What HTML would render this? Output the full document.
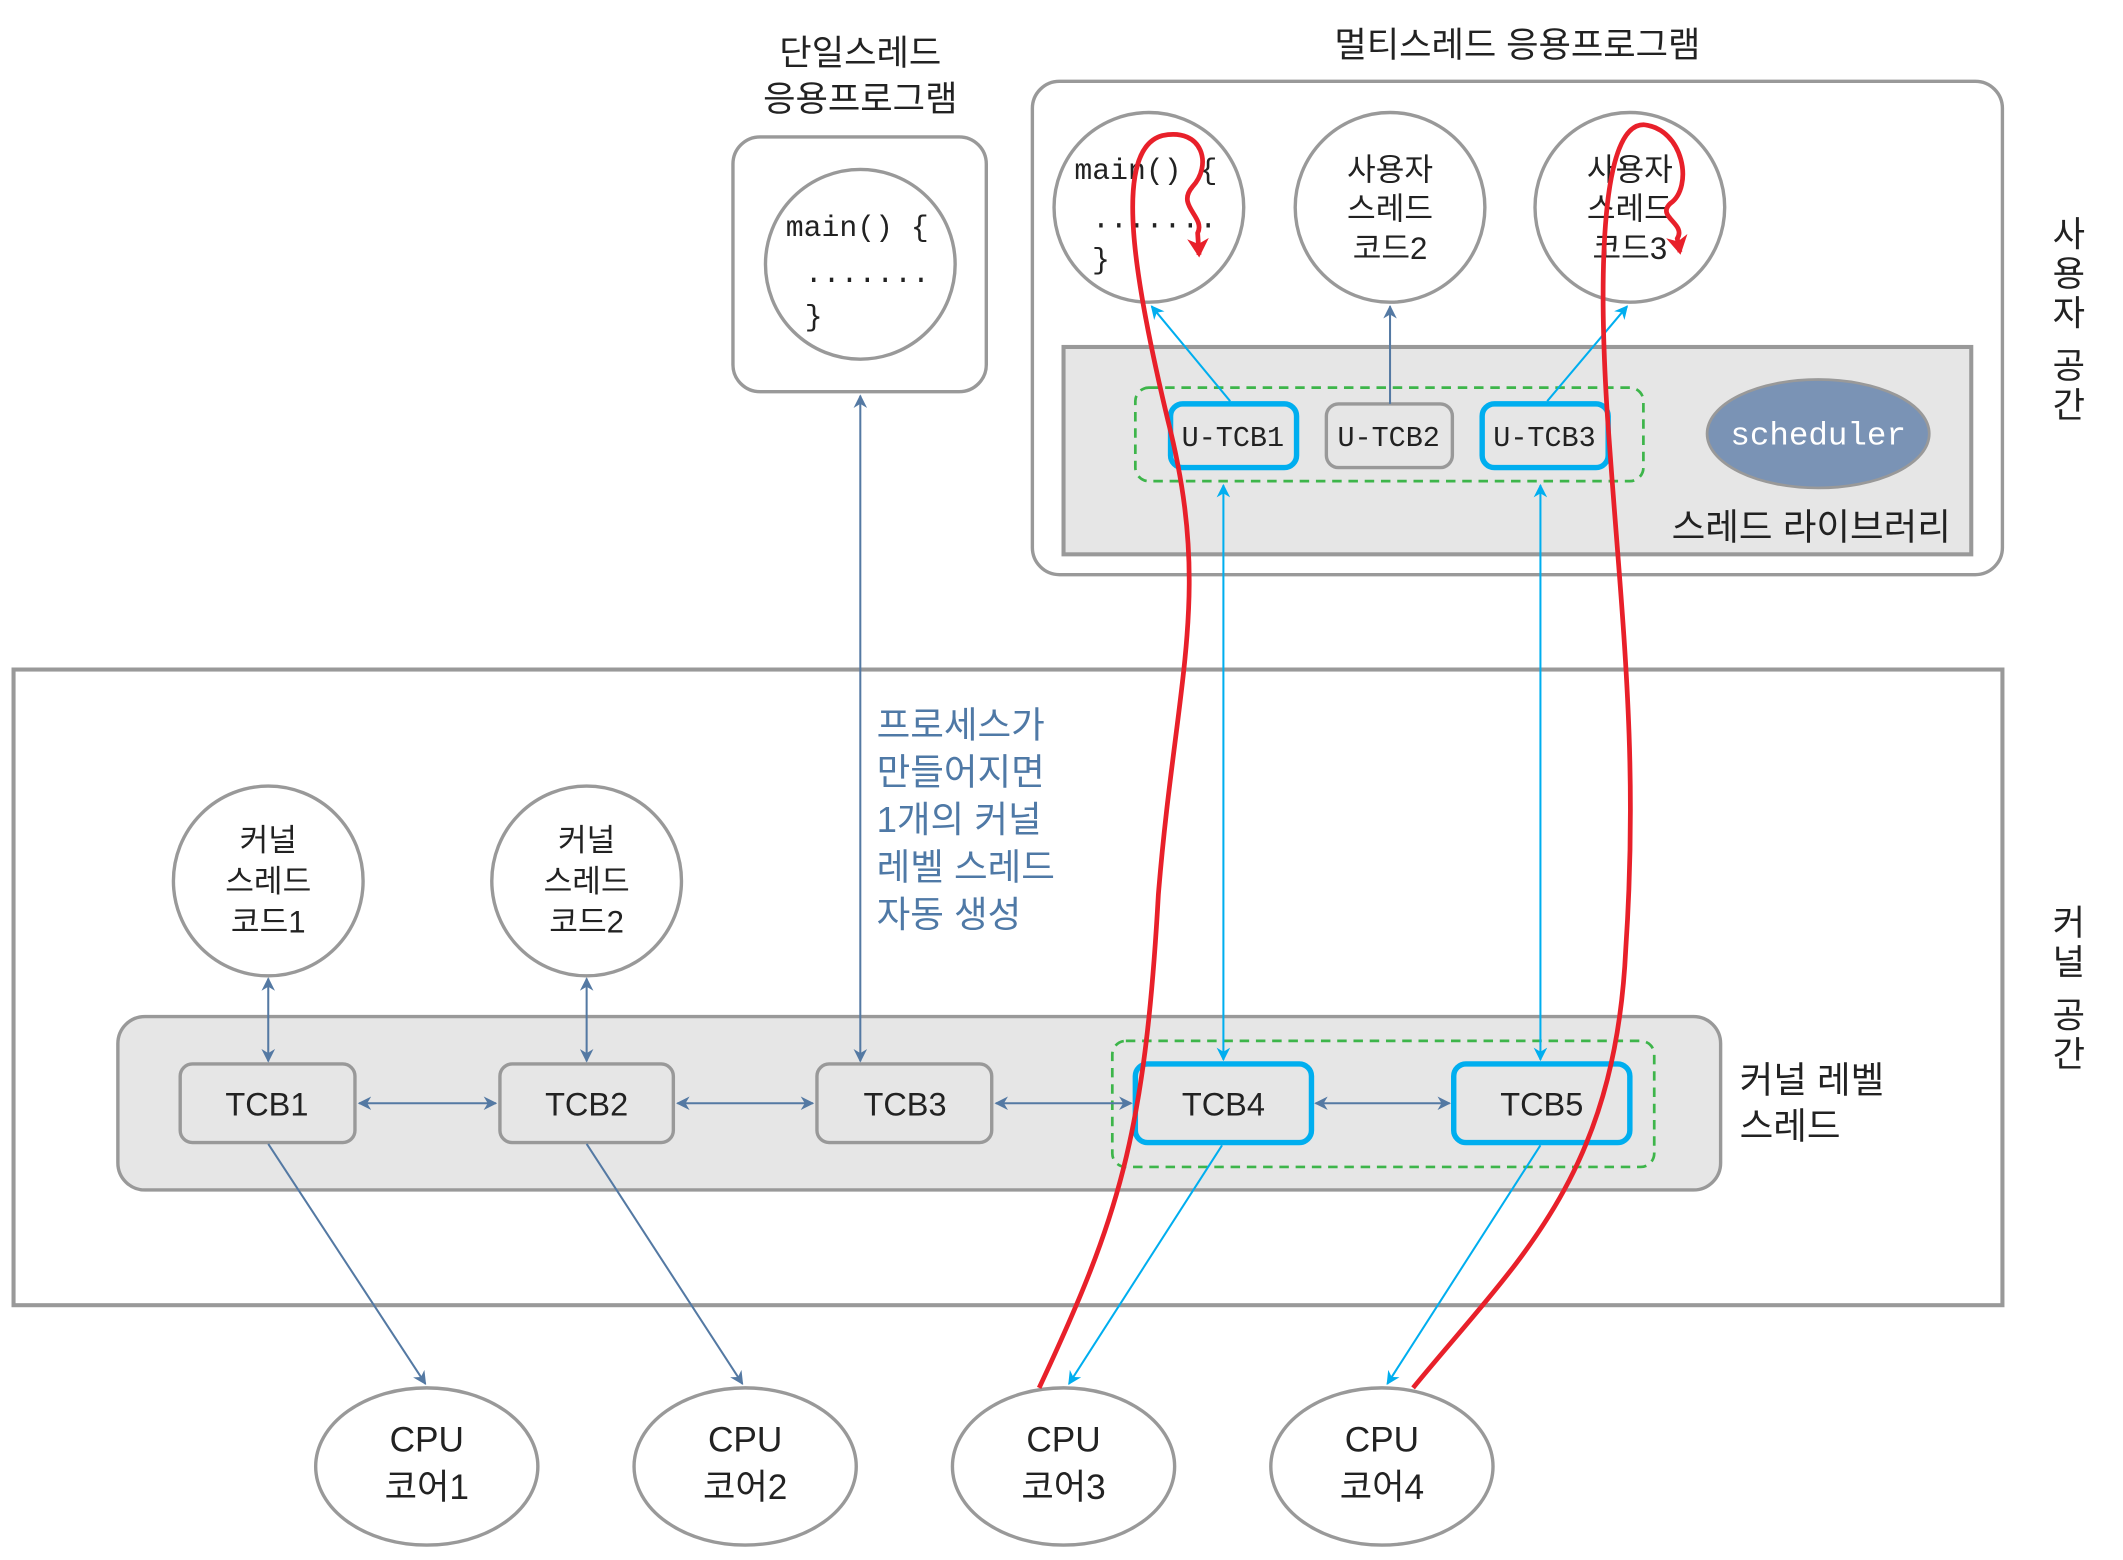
<!DOCTYPE html>
<html><head><meta charset="utf-8"><style>
html,body{margin:0;padding:0;background:#fff}
svg{display:block}
text{font-family:"Liberation Sans","Noto Sans CJK KR",sans-serif;fill:#222}
.m{font-family:"Liberation Mono","Noto Sans CJK KR",monospace}
</style></head><body>
<svg width="2123" height="1560" viewBox="0 0 1567 1151" preserveAspectRatio="none" xmlns="http://www.w3.org/2000/svg">
<defs>
<marker id="ab" markerWidth="10" markerHeight="10" refX="9" refY="5" orient="auto-start-reverse" markerUnits="userSpaceOnUse"><path d="M0,0 L10,5 L0,10 L3,5z" fill="#5479a3"/></marker>
<marker id="ac" markerWidth="10" markerHeight="10" refX="9" refY="5" orient="auto-start-reverse" markerUnits="userSpaceOnUse"><path d="M0,0 L10,5 L0,10 L3,5z" fill="#00aeef"/></marker>
<marker id="ar" markerWidth="14" markerHeight="16" refX="12" refY="8" orient="auto" markerUnits="userSpaceOnUse"><path d="M0,0 L14,8 L0,16 L4,8z" fill="#e8202a"/></marker>
</defs>
<text x="635" y="48" font-size="26" text-anchor="middle">단일스레드</text>
<text x="635" y="82" font-size="26" text-anchor="middle">응용프로그램</text>
<text x="1120" y="42" font-size="26" text-anchor="middle">멀티스레드 응용프로그램</text>
<rect x="541" y="101" width="187" height="188" rx="20" fill="#fff" stroke="#999" stroke-width="2.5"/>
<circle cx="635" cy="195" r="70" fill="#fff" stroke="#999" stroke-width="2.5"/>
<text class="m" x="580" y="174" font-size="22">main() {</text>
<text class="m" x="594" y="208" font-size="22">.......</text>
<text class="m" x="594" y="240" font-size="22">}</text>
<rect x="762" y="60" width="716" height="364" rx="20" fill="#fff" stroke="#999" stroke-width="2.5"/>
<circle cx="848" cy="153" r="70" fill="#fff" stroke="#999" stroke-width="2.5"/>
<text class="m" x="793" y="132" font-size="22">main() {</text>
<text class="m" x="806" y="168" font-size="22">.......</text>
<text class="m" x="806" y="198" font-size="22">}</text>
<circle cx="1026" cy="153" r="70" fill="#fff" stroke="#999" stroke-width="2.5"/>
<text x="1026" y="133" font-size="23" text-anchor="middle">사용자</text>
<text x="1026" y="162" font-size="23" text-anchor="middle">스레드</text>
<text x="1026" y="191" font-size="23" text-anchor="middle">코드2</text>
<circle cx="1203" cy="153" r="70" fill="#fff" stroke="#999" stroke-width="2.5"/>
<text x="1203" y="133" font-size="23" text-anchor="middle">사용자</text>
<text x="1203" y="162" font-size="23" text-anchor="middle">스레드</text>
<text x="1203" y="191" font-size="23" text-anchor="middle">코드3</text>
<rect x="785" y="256" width="670" height="153" fill="#e6e6e6" stroke="#999" stroke-width="3"/>
<rect x="838" y="286" width="375" height="69" rx="10" fill="none" stroke="#3db54a" stroke-width="2" stroke-dasharray="7,5"/>
<rect x="864" y="298" width="93" height="47" rx="9" fill="#e6e6e6" stroke="#00aeef" stroke-width="4"/>
<text class="m" x="910" y="329" font-size="21" text-anchor="middle">U-TCB1</text>
<rect x="979" y="298" width="93" height="47" rx="9" fill="#e6e6e6" stroke="#999" stroke-width="2.5"/>
<text class="m" x="1025" y="329" font-size="21" text-anchor="middle">U-TCB2</text>
<rect x="1094" y="298" width="93" height="47" rx="9" fill="#e6e6e6" stroke="#00aeef" stroke-width="4"/>
<text class="m" x="1140" y="329" font-size="21" text-anchor="middle">U-TCB3</text>
<ellipse cx="1342" cy="320" rx="82" ry="40" fill="#7a93b5" stroke="#999" stroke-width="2"/>
<text class="m" x="1342" y="328" font-size="24" text-anchor="middle" style="fill:#fff">scheduler</text>
<text x="1440" y="398" font-size="27" text-anchor="end">스레드 라이브러리</text>
<g font-size="26" text-anchor="middle">
<text x="1527" y="182">사</text><text x="1527" y="211">용</text><text x="1527" y="240">자</text>
<text x="1527" y="279">공</text><text x="1527" y="308">간</text>
<text x="1527" y="690">커</text><text x="1527" y="719">널</text>
<text x="1527" y="758">공</text><text x="1527" y="787">간</text>
</g>
<rect x="10" y="494" width="1468" height="469" fill="none" stroke="#999" stroke-width="3"/>
<circle cx="198" cy="650" r="70" fill="#fff" stroke="#999" stroke-width="2.5"/>
<text x="198" y="628" font-size="23" text-anchor="middle">커널</text>
<text x="198" y="658" font-size="23" text-anchor="middle">스레드</text>
<text x="198" y="688" font-size="23" text-anchor="middle">코드1</text>
<circle cx="433" cy="650" r="70" fill="#fff" stroke="#999" stroke-width="2.5"/>
<text x="433" y="628" font-size="23" text-anchor="middle">커널</text>
<text x="433" y="658" font-size="23" text-anchor="middle">스레드</text>
<text x="433" y="688" font-size="23" text-anchor="middle">코드2</text>
<g font-size="27">
<text x="647" y="544" style="fill:#4f79a6">프로세스가</text>
<text x="647" y="579" style="fill:#4f79a6">만들어지면</text>
<text x="647" y="614" style="fill:#4f79a6">1개의 커널</text>
<text x="647" y="649" style="fill:#4f79a6">레벨 스레드</text>
<text x="647" y="684" style="fill:#4f79a6">자동 생성</text>
</g>
<rect x="87" y="750" width="1183" height="128" rx="20" fill="#e6e6e6" stroke="#999" stroke-width="2.5"/>
<rect x="821" y="768" width="400" height="93" rx="10" fill="none" stroke="#3db54a" stroke-width="2" stroke-dasharray="7,5"/>
<g font-size="24" text-anchor="middle">
<rect x="133" y="785" width="129" height="58" rx="9" fill="#e6e6e6" stroke="#999" stroke-width="2.5"/><text x="197" y="823">TCB1</text>
<rect x="369" y="785" width="128" height="58" rx="9" fill="#e6e6e6" stroke="#999" stroke-width="2.5"/><text x="433" y="823">TCB2</text>
<rect x="603" y="785" width="129" height="58" rx="9" fill="#e6e6e6" stroke="#999" stroke-width="2.5"/><text x="668" y="823">TCB3</text>
<rect x="838" y="785" width="130" height="58" rx="9" fill="#e6e6e6" stroke="#00aeef" stroke-width="4"/><text x="903" y="823">TCB4</text>
<rect x="1073" y="785" width="130" height="58" rx="9" fill="#e6e6e6" stroke="#00aeef" stroke-width="4"/><text x="1138" y="823">TCB5</text>
</g>
<text x="1284" y="806" font-size="27">커널 레벨</text>
<text x="1284" y="840" font-size="27">스레드</text>
<g font-size="26" text-anchor="middle">
<ellipse cx="315" cy="1082" rx="82" ry="58" fill="#fff" stroke="#999" stroke-width="2.5"/><text x="315" y="1071">CPU</text><text x="315" y="1106">코어1</text>
<ellipse cx="550" cy="1082" rx="82" ry="58" fill="#fff" stroke="#999" stroke-width="2.5"/><text x="550" y="1071">CPU</text><text x="550" y="1106">코어2</text>
<ellipse cx="785" cy="1082" rx="82" ry="58" fill="#fff" stroke="#999" stroke-width="2.5"/><text x="785" y="1071">CPU</text><text x="785" y="1106">코어3</text>
<ellipse cx="1020" cy="1082" rx="82" ry="58" fill="#fff" stroke="#999" stroke-width="2.5"/><text x="1020" y="1071">CPU</text><text x="1020" y="1106">코어4</text>
</g>
<g stroke="#5479a3" stroke-width="1.5" fill="none">
<line x1="635" y1="292" x2="635" y2="783" marker-start="url(#ab)" marker-end="url(#ab)"/>
<line x1="198" y1="722" x2="198" y2="783" marker-start="url(#ab)" marker-end="url(#ab)"/>
<line x1="433" y1="722" x2="433" y2="783" marker-start="url(#ab)" marker-end="url(#ab)"/>
<line x1="265" y1="814" x2="366" y2="814" marker-start="url(#ab)" marker-end="url(#ab)"/>
<line x1="500" y1="814" x2="600" y2="814" marker-start="url(#ab)" marker-end="url(#ab)"/>
<line x1="735" y1="814" x2="835" y2="814" marker-start="url(#ab)" marker-end="url(#ab)"/>
<line x1="971" y1="814" x2="1070" y2="814" marker-start="url(#ab)" marker-end="url(#ab)"/>
<line x1="1026" y1="298" x2="1026" y2="226" marker-end="url(#ab)"/>
<line x1="198" y1="844" x2="314" y2="1021" marker-end="url(#ab)"/>
<line x1="433" y1="844" x2="548" y2="1021" marker-end="url(#ab)"/>
</g>
<g stroke="#00aeef" stroke-width="1.5" fill="none">
<line x1="908" y1="296" x2="850" y2="226" marker-end="url(#ac)"/>
<line x1="1142" y1="296" x2="1201" y2="226" marker-end="url(#ac)"/>
<line x1="903" y1="358" x2="903" y2="782" marker-start="url(#ac)" marker-end="url(#ac)"/>
<line x1="1137" y1="358" x2="1137" y2="782" marker-start="url(#ac)" marker-end="url(#ac)"/>
<line x1="902" y1="845" x2="789" y2="1021" marker-end="url(#ac)"/>
<line x1="1137" y1="845" x2="1024" y2="1021" marker-end="url(#ac)"/>
</g>
<g stroke="#e8202a" stroke-width="3.5" fill="none">
<path d="M767,1024 C825,900 845,840 855,660 C868,500 895,440 862,310 C838,210 820,110 858,100 C888,94 895,122 880,138 C868,152 890,160 884,172 L885,188" marker-end="url(#ar)"/>
<path d="M1043,1024 C1120,930 1192,870 1200,700 C1210,550 1196,450 1186,300 C1180,200 1182,92 1213,92 C1243,95 1250,138 1233,150 C1222,160 1245,165 1238,176 L1240,186" marker-end="url(#ar)"/>
</g>
</svg>
</body></html>
